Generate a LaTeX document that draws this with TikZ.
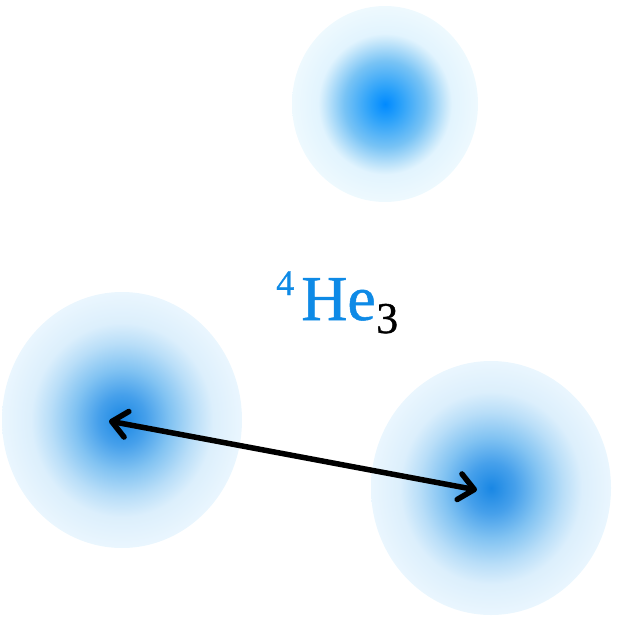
\documentclass[tikz,border=0pt]{standalone}
\usepackage{fontspec}
\setmainfont{Liberation Serif}
\newfontfamily\hefont[FakeBold=0.8]{Liberation Serif}
\usetikzlibrary{shapes.geometric,arrows.meta}
\definecolor{heblue}{RGB}{14,138,230}
\definecolor{bc0}{RGB}{0,138,255}
\definecolor{bc1}{RGB}{40,160,250}
\definecolor{bc2}{RGB}{120,195,245}
\definecolor{bc3}{RGB}{205,234,251}
\definecolor{bc4}{RGB}{226,244,254}
\definecolor{bc5}{RGB}{238,249,254}
\definecolor{bd0}{RGB}{25,135,228}
\definecolor{bd1}{RGB}{70,160,235}
\definecolor{bd2}{RGB}{130,195,242}
\definecolor{bd3}{RGB}{185,222,248}
\definecolor{bd4}{RGB}{220,239,252}
\definecolor{bd5}{RGB}{234,246,254}
\pgfdeclareradialshading{blobshade}{\pgfpoint{0bp}{0bp}}{%
  color(0bp)=(bc0); color(4bp)=(bc1); color(11bp)=(bc2); color(16.5bp)=(bc3);
  color(18bp)=(bc4); color(25bp)=(bc5); color(50bp)=(bc5)}
\pgfdeclareradialshading{blobshadeB}{\pgfpoint{0bp}{0bp}}{%
  color(0bp)=(bd0); color(5bp)=(bd1); color(10bp)=(bd2); color(15bp)=(bd3);
  color(19bp)=(bd4); color(25bp)=(bd5); color(50bp)=(bd5)}
\tikzset{
  blob/.style={ellipse, inner sep=0pt, draw=none, shading=blobshade},
  softblob/.style={ellipse, inner sep=0pt, draw=none, shading=blobshadeB},
  lbl/.style={inner sep=0pt, text=heblue},
  link/.style={line width=5.5pt, line cap=round, {Straight Barb[length=15pt,width=26pt,round]}-{Straight Barb[length=15pt,width=26pt,round]}}
}
\begin{document}
\begin{tikzpicture}[x=1pt,y=-1pt]
\useasboundingbox (0,0) rectangle (616,620);
\node[blob, minimum width=186pt, minimum height=196pt] (top) at (385,104) {};
\node[softblob, minimum width=240pt, minimum height=256pt] (left) at (122,420) {};
\node[softblob, minimum width=240pt, minimum height=254pt] (right) at (491,488) {};
\node[lbl, anchor=base west, font=\hefont\fontsize{64}{70}\selectfont] (he) at (301,320) {He};
\node[lbl, anchor=base west, font=\hefont\fontsize{36}{40}\selectfont] (four) at (276,295) {4};
\node[lbl, anchor=base west, text=black, font=\hefont\fontsize{44}{50}\selectfont] (three) at (376,333) {3};
\coordinate (pL) at (109,421);
\coordinate (pR) at (477,490);
\draw[link] (pL) -- (pR);
\end{tikzpicture}
\end{document}
